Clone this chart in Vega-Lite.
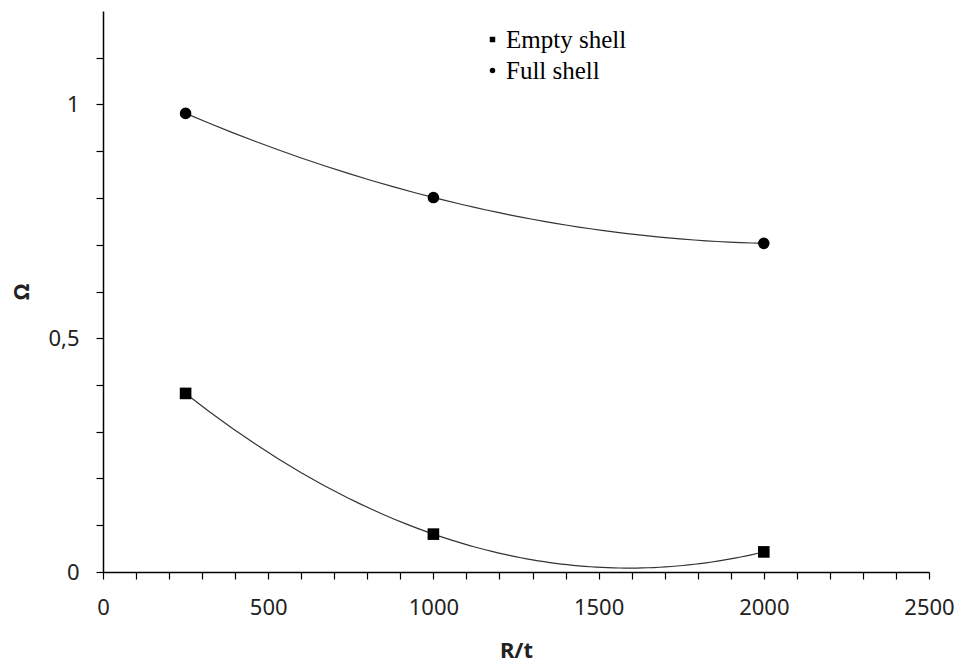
{
  "$schema": "https://vega.github.io/schema/vega-lite/v6.json",
  "width": 826,
  "height": 561,
  "autosize": {"type": "none"},
  "padding": {"left": 103, "top": 11, "right": 32, "bottom": 91},
  "background": "white",
  "config": {
    "view": {"stroke": null},
    "axis": {
      "grid": false,
      "domainColor": "black",
      "tickColor": "black",
      "labelColor": "#222",
      "titleColor": "#222",
      "labelFont": "Noto Sans",
      "titleFont": "Noto Sans",
      "labelFontSize": 22,
      "titleFontSize": 22,
      "tickSize": 7,
      "domainWidth": 1.5,
      "tickWidth": 1.2,
      "labelOverlap": false,
      "labelFlush": false
    }
  },
  "data": {
    "values": [
      {"series": "Empty shell", "rt": 250, "omega": 0.382},
      {"series": "Empty shell", "rt": 1000, "omega": 0.081},
      {"series": "Empty shell", "rt": 2000, "omega": 0.043},
      {"series": "Full shell", "rt": 250, "omega": 0.981},
      {"series": "Full shell", "rt": 1000, "omega": 0.801},
      {"series": "Full shell", "rt": 2000, "omega": 0.703}
    ]
  },
  "encoding": {
    "x": {
      "field": "rt",
      "type": "quantitative",
      "scale": {"domain": [0, 2500], "nice": false},
      "axis": {
        "values": [0,100,200,300,400,500,600,700,800,900,1000,1100,1200,1300,1400,1500,1600,1700,1800,1900,2000,2100,2200,2300,2400,2500],
        "labelExpr": "datum.value % 500 == 0 ? '' + datum.value : ''",
        "title": "R/t",
        "titleFontWeight": "bold",
        "labelPadding": 18,
        "titlePadding": 22
      }
    },
    "y": {
      "field": "omega",
      "type": "quantitative",
      "scale": {"domain": [0, 1.2], "nice": false},
      "axis": {
        "values": [0,0.1,0.2,0.3,0.4,0.5,0.6,0.7,0.8,0.9,1,1.1],
        "labelExpr": "datum.value == 0 ? '0' : (datum.value == 0.5 ? '0,5' : (datum.value == 1 ? '1' : ''))",
        "title": "Ω",
        "titleFontWeight": "bold",
        "labelPadding": 17,
        "titlePadding": 14
      }
    }
  },
  "layer": [
    {
      "transform": [
        {"regression": "omega", "on": "rt", "groupby": ["series"], "method": "poly", "order": 2}
      ],
      "mark": {"type": "line", "color": "#333", "strokeWidth": 1.2},
      "encoding": {
        "detail": {"field": "series"}
      }
    },
    {
      "mark": {"type": "point", "filled": true, "color": "black", "opacity": 1, "size": 135},
      "encoding": {
        "shape": {
          "field": "series",
          "type": "nominal",
          "scale": {"domain": ["Empty shell", "Full shell"], "range": ["square", "circle"]},
          "legend": {
            "title": null,
            "orient": "none",
            "legendX": 377,
            "legendY": 16,
            "symbolSize": 30,
            "symbolFillColor": "black",
            "symbolStrokeColor": "black",
            "labelFont": "Liberation Serif",
            "labelFontSize": 25,
            "labelColor": "black",
            "labelOffset": 1,
            "rowPadding": 5
          }
        }
      }
    }
  ]
}
